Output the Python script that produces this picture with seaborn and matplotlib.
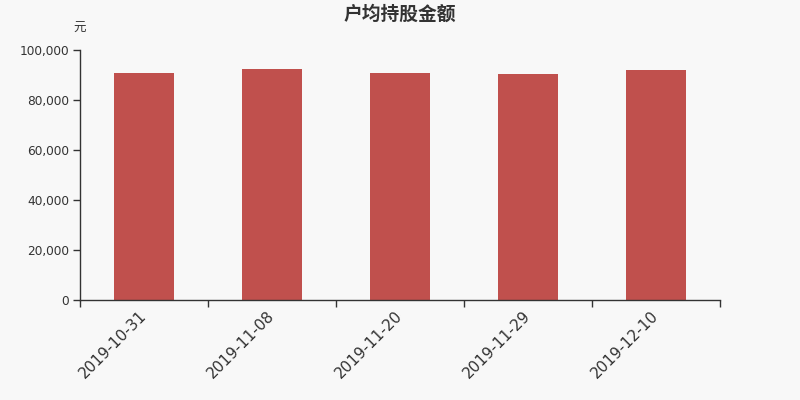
import matplotlib
matplotlib.use("Agg")
import matplotlib.pyplot as plt
import seaborn as sns
import pandas as pd
from matplotlib.ticker import FuncFormatter, FixedLocator

dates = ["2019-10-31", "2019-11-08", "2019-11-20", "2019-11-29", "2019-12-10"]
values = [90800, 92250, 90650, 90400, 92000]
title = "户均持股金额"
unit = "元"

sns.set_theme(style="white")
plt.rcParams['font.family'] = ['DejaVu Sans', 'Noto Sans CJK SC']

bg = "#f8f8f8"
txt = "#333333"
fig = plt.figure(figsize=(8, 4), dpi=100, facecolor=bg)
ax = fig.add_axes([0.1, 0.25, 0.8, 0.625], facecolor=bg)

df = pd.DataFrame({"date": dates, "value": values})
sns.barplot(data=df, x="date", y="value", color="#c0504d", saturation=1,
            width=0.47, linewidth=0, ax=ax)

ax.set_xlim(-0.5, len(dates) - 0.5)
ax.set_ylim(0, 100000)
ax.set_yticks([0, 20000, 40000, 60000, 80000, 100000])
ax.yaxis.set_major_formatter(FuncFormatter(lambda v, p: f"{int(v):,}"))
ax.tick_params(axis="y", length=5, width=1, color=txt, labelsize=8.7, labelcolor=txt, pad=3, left=True)

ax.xaxis.set_minor_locator(FixedLocator([i - 0.5 for i in range(len(dates) + 1)]))
ax.tick_params(axis="x", which="minor", length=5, width=1, color=txt, bottom=True)
ax.tick_params(axis="x", which="major", length=0, labelsize=11, labelcolor=txt, pad=10)
for lbl in ax.get_xticklabels():
    lbl.set_rotation(45)
    lbl.set_ha("right")
    lbl.set_va("center")
    lbl.set_rotation_mode("anchor")

ax.set_xlabel("")
ax.set_ylabel("")
for s in ["top", "right"]:
    ax.spines[s].set_visible(False)
for s in ["left", "bottom"]:
    ax.spines[s].set_color(txt)
    ax.spines[s].set_linewidth(1)

fig.text(0.5, 0.965, title, ha="center", va="center", fontsize=13.5, fontweight="bold",
         color=txt, family=["Noto Sans CJK SC"])
fig.text(0.1, 0.93, unit, ha="center", va="center", fontsize=9, color=txt,
         family=["Noto Sans CJK SC"])

fig.savefig("out.png", dpi=100, facecolor=bg)
